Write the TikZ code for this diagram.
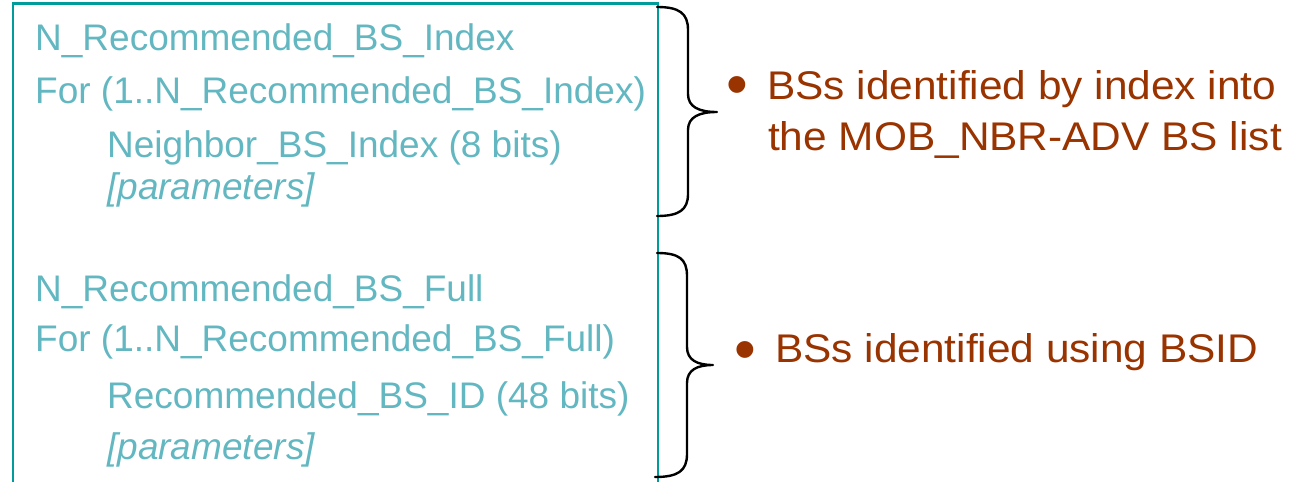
\documentclass[tikz,border=0pt]{standalone}
\usepackage{fontspec}
\setmainfont{Liberation Sans}
\newfontfamily\notefont[FakeStretch=1.06]{Liberation Sans}
\usetikzlibrary{positioning}
\definecolor{fieldteal}{HTML}{62B7C1}
\definecolor{frameteal}{HTML}{009C9C}
\definecolor{notered}{HTML}{993300}

\begin{document}
\begin{tikzpicture}[
  x=1pt, y=-1pt,
  field/.style={anchor=base west, inner sep=0pt, text=fieldteal,
                font=\fontsize{37}{45}\selectfont},
  note/.style={anchor=base west, inner sep=0pt, text=notered,
               font=\notefont\fontsize{40}{48}\selectfont},
  dot/.style={inner sep=0pt, text=notered, font=\fontsize{62}{64}\selectfont},
  frame/.style={draw=frameteal, line width=2.4pt},
  curly/.style={draw=black, line width=2.4pt, line join=round, line cap=round}
]
\useasboundingbox (0,0) rectangle (1290,482);

% ---- Frame ----
\draw[frame] (12.7,482) |- (658,3.6) -- (658,482);

% ---- Index list fields ----
\node[field] (nidx)   at (35,50)  {N\_Recommended\_BS\_Index};
\node[field] (foridx) at (35,103) {For (1..N\_Recommended\_BS\_Index)};
\node[field] (nbridx) at (107,157) {Neighbor\_BS\_Index (8 bits)};
\node[field] (paridx) at (107,199) {\itshape [parameters]};

% ---- Full list fields ----
\node[field] (nfull)   at (35,301) {N\_Recommended\_BS\_Full};
\node[field] (forfull) at (35,351) {For (1..N\_Recommended\_BS\_Full)};
\node[field] (idfull)  at (107,408) {Recommended\_BS\_ID (48 bits)};
\node[field] (parfull) at (107,459) {\itshape [parameters]};

% ---- Braces ----
\draw[curly] (657,7) .. controls (679,7) and (688,13) .. (688,30)
  -- (688,94) .. controls (688,107) and (699,112) .. (717,112)
  .. controls (699,112) and (688,117) .. (688,130)
  -- (688,194) .. controls (688,210) and (679,216) .. (657,216);
\draw[curly] (657,253) .. controls (679,253) and (687,259) .. (687,276)
  -- (687,347) .. controls (687,360) and (697,365) .. (713,365)
  .. controls (697,365) and (687,370) .. (687,383)
  -- (687,454) .. controls (687,471) and (678,477) .. (655,477);

% ---- Notes ----
\node[dot] (dotidx) at (737,91) {•};
\node[note] (noteidx) at (767,99) {BSs identified by index into};
\node[note] (noteidx2) at (768,150) {the MOB\_NBR-ADV BS list};
\node[dot] (dotfull) at (745,356) {•};
\node[note] (notefull) at (775,362) {BSs identified using BSID};
\end{tikzpicture}
\end{document}
